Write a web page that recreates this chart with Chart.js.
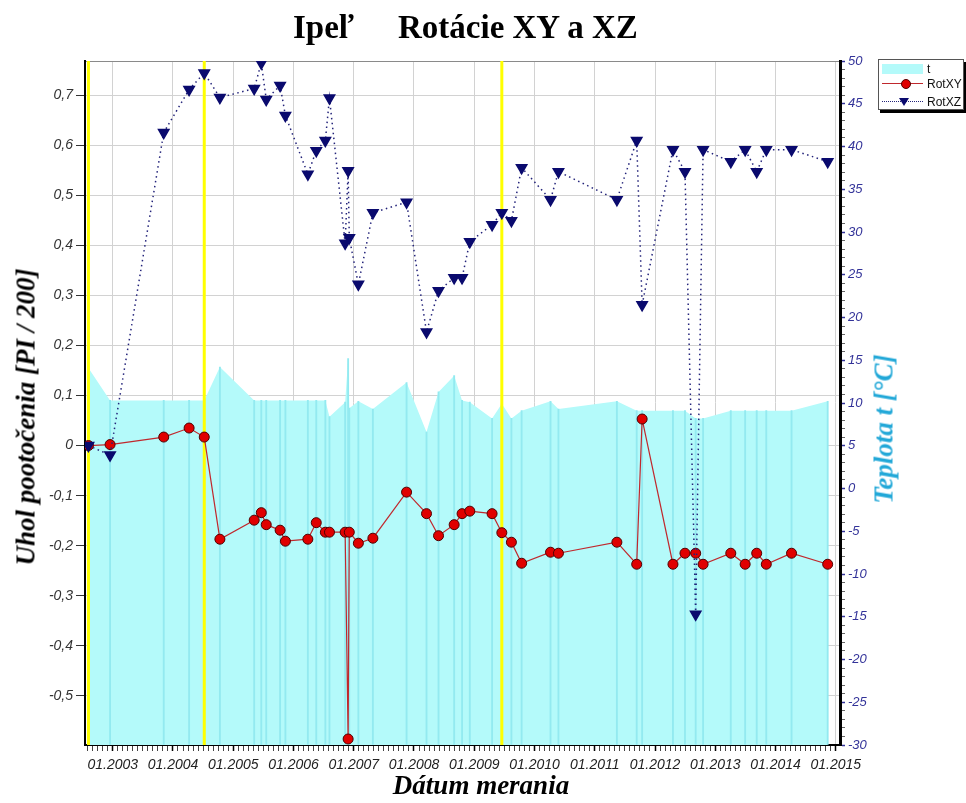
<!DOCTYPE html>
<html>
<head>
<meta charset="utf-8">
<title>Ipeľ Rotácie XY a XZ</title>
<script src="https://cdn.jsdelivr.net/npm/chart.js@4.4.0/dist/chart.umd.min.js"></script>
<style>
body { margin: 0; background: #fff; }
#wrap { position: relative; width: 966px; height: 803px; overflow: hidden; }
#graf { position: absolute; left: 0; top: 0; }
.ttl { position: absolute; font-family: "Liberation Serif", serif; font-weight: bold; color: #000; white-space: nowrap; line-height: 1; }
.axt { font-style: italic; font-size: 27px; transform: translate(-50%, -50%) rotate(-90deg); }
#legend { position: absolute; left: 878px; top: 59px; width: 86px; height: 51px; border: 1px solid #555; background: #fff; box-shadow: 2px 3px 0 #000; box-sizing: border-box; font-family: "Liberation Sans", Arial, sans-serif; font-size: 12px; color: #111; }
#legend div, #legend span { position: absolute; }
</style>
</head>
<body>
<div id="wrap">
  <canvas id="graf" width="966" height="803"></canvas>
  <div class="ttl" style="left:293px; top:11px; font-size:33px;">Ipeľ</div>
  <div class="ttl" style="left:398px; top:11px; font-size:33px;">Rotácie XY a XZ</div>
  <div class="ttl axt" style="left:26px; top:417px;">Uhol pootočenia [PI / 200]</div>
  <div class="ttl axt" style="left:884px; top:429px; color:#22a8d8;">Teplota t [°C]</div>
  <div class="ttl" style="left:481px; top:772px; font-size:27px; font-style:italic; transform:translateX(-50%);">Dátum merania</div>
  <div id="legend">
    <div style="left:3px; top:4px; width:41px; height:10px; background:#b4fafa;"></div>
    <span style="left:48px; top:2px;">t</span>
    <div style="left:3px; top:23px; width:41px; height:0; border-top:1.5px solid #c0282d;"></div>
    <div style="left:22px; top:19px; width:8px; height:8px; border-radius:50%; background:#e00000; border:1px solid #500;"></div>
    <span style="left:48px; top:17px;">RotXY</span>
    <div style="left:3px; top:41px; width:41px; height:0; border-top:1.5px dotted #23237a;"></div>
    <div style="left:20px; top:38px; width:0; height:0; border-left:5px solid transparent; border-right:5px solid transparent; border-top:8px solid #0a0a6e;"></div>
    <span style="left:48px; top:35px;">RotXZ</span>
  </div>
</div>
<script>
// datumy merani
const dates = [
  '2002-08-07', '2002-12-16', '2003-11-06', '2004-04-08', '2004-07-09', '2004-10-12',
  '2005-05-08', '2005-06-20', '2005-07-20', '2005-10-12', '2005-11-13', '2006-03-29',
  '2006-05-19', '2006-07-13', '2006-08-07', '2006-11-10', '2006-11-28', '2006-12-05',
  '2007-01-29', '2007-04-27', '2007-11-17', '2008-03-17', '2008-05-29', '2008-09-01',
  '2008-10-19', '2008-12-05', '2009-04-19', '2009-06-17', '2009-08-14', '2009-10-15',
  '2010-04-08', '2010-05-26', '2011-05-15', '2011-09-12', '2011-10-15', '2012-04-19',
  '2012-07-01', '2012-09-04', '2012-10-19', '2013-04-05', '2013-07-01', '2013-09-09',
  '2013-11-06', '2014-04-08', '2014-11-13'
];
const rotXY = [
  0, 0.002, 0.017, 0.035, 0.017, -0.187,
  -0.149, -0.134, -0.158, -0.169, -0.191, -0.187,
  -0.154, -0.173, -0.173, -0.173, -0.586, -0.173,
  -0.195, -0.185, -0.093, -0.136, -0.180, -0.158,
  -0.136, -0.131, -0.136, -0.174, -0.193, -0.235,
  -0.213, -0.215, -0.193, -0.237, 0.053, -0.237,
  -0.215, -0.215, -0.237, -0.215, -0.237, -0.215,
  -0.237, -0.215, -0.237
];
const rotXZ = [
  0, -0.019, 0.625, 0.711, 0.744, 0.695,
  0.713, 0.764, 0.691, 0.719, 0.659, 0.542,
  0.589, 0.609, 0.694, 0.404, 0.549, 0.415,
  0.322, 0.465, 0.486, 0.227, 0.309, 0.335,
  0.335, 0.407, 0.441, 0.465, 0.449, 0.555,
  0.491, 0.547, 0.491, 0.609, 0.281, 0.591,
  0.547, -0.337, 0.591, 0.567, 0.591, 0.547,
  0.591, 0.591, 0.567
];
const teplota = [
  14.1, 10.3, 10.3, 10.3, 10.3, 14.2,
  10.3, 10.3, 10.3, 10.3, 10.3, 10.3,
  10.3, 10.3, 8.4, 10.1, 15.2, 9.4,
  10.2, 9.3, 12.4, 6.6, 11.3, 13.2,
  10.3, 10.1, 8.2, 9.9, 8.2, 9.1,
  10.2, 9.3, 10.2, 9.1, 9.1, 9.1,
  9.1, 8.2, 8.2, 9.1, 9.1, 9.1,
  9.1, 9.1, 10.2
];
// zlte ciary
const yellowDates = ['2002-08-07', '2004-07-09', '2009-06-17'];

const xMin = 2002.54, xMax = 2015.07;
const yMin = -0.598, yMax = 0.768;
const tMin = -30, tMax = 50;

function toYear(s) {
    const p = s.split('-').map(Number);
    const start = Date.UTC(p[0], 0, 1);
    const next = Date.UTC(p[0] + 1, 0, 1);
    return p[0] + (Date.UTC(p[0], p[1] - 1, p[2]) - start) / (next - start);
}
const xs = dates.map(toYear);
const pts = arr => arr.map((v, i) => ({x: xs[i], y: v}));
const isYear = v => Math.abs(v - Math.round(v)) < 1e-6;

const tickFont = {family: 'Liberation Sans', size: 14, style: 'italic'};

const yellowSets = yellowDates.map((d, i) => ({
    type: 'line',
    label: 'yellow' + i,
    data: [{x: toYear(d), y: yMin}, {x: toYear(d), y: yMax}],
    yAxisID: 'y',
    borderColor: '#ffff00',
    borderWidth: 3,
    pointRadius: 0,
    order: 2
}));

new Chart(document.getElementById('graf'), {
    type: 'line',
    data: {
        datasets: [
            {
                label: 'RotXZ',
                data: pts(rotXZ),
                yAxisID: 'y',
                borderColor: '#23237a',
                borderWidth: 1.5,
                borderDash: [1.5, 3.5],
                pointStyle: 'triangle',
                rotation: 180,
                pointRadius: 6,
                pointBackgroundColor: '#0a0a6e',
                pointBorderColor: '#0a0a6e',
                order: 0
            },
            {
                label: 'RotXY',
                data: pts(rotXY),
                yAxisID: 'y',
                borderColor: '#c0282d',
                borderWidth: 1.2,
                pointRadius: 5,
                pointBackgroundColor: '#e00000',
                pointBorderColor: '#500000',
                pointBorderWidth: 1,
                order: 1
            },
            ...yellowSets,
            {
                type: 'bar',
                label: 't-ciary',
                data: pts(teplota),
                yAxisID: 't',
                base: tMin,
                barThickness: 1.2,
                grouped: false,
                backgroundColor: '#93eaf0',
                order: 3
            },
            {
                label: 't',
                data: pts(teplota),
                yAxisID: 't',
                fill: 'start',
                backgroundColor: '#b4fafa',
                borderWidth: 0,
                pointRadius: 0,
                order: 4
            }
        ]
    },
    options: {
        responsive: false,
        animation: false,
        layout: { padding: {top: 61, left: 0, right: 86, bottom: 0} },
        plugins: {
            legend: { display: false },
            title: { display: false },
            tooltip: { enabled: false }
        },
        scales: {
            x: {
                type: 'linear',
                min: xMin,
                max: xMax,
                offset: false,
                afterFit: s => { s.height = 58; },
                border: { color: '#000', width: 2 },
                grid: {
                    offset: false,
                    color: c => isYear(c.tick.value) ? '#d2d2d2' : 'rgba(0,0,0,0)',
                    tickColor: c => isYear(c.tick.value) ? '#000' : '#444',
                    tickWidth: c => isYear(c.tick.value) ? 1.5 : 1,
                    tickLength: 6
                },
                ticks: {
                    stepSize: 1 / 12,
                    includeBounds: false,
                    autoSkip: false,
                    maxRotation: 0,
                    minRotation: 0,
                    padding: 6,
                    color: '#222',
                    font: tickFont,
                    callback: v => isYear(v) ? '01.' + Math.round(v) : ''
                }
            },
            y: {
                position: 'left',
                min: yMin,
                max: yMax,
                afterFit: s => { s.width = 85; },
                border: { color: '#000', width: 2 },
                grid: { color: '#d2d2d2', tickColor: '#333', tickLength: 9 },
                ticks: {
                    stepSize: 0.1,
                    includeBounds: false,
                    padding: 3,
                    color: '#333',
                    font: tickFont,
                    callback: v => {
                        const r = Math.round(v * 10) / 10;
                        return r === 0 ? '0' : String(r).replace('.', ',');
                    }
                }
            },
            t: {
                position: 'right',
                min: tMin,
                max: tMax,
                afterFit: s => { s.width = 40; },
                border: { color: '#000', width: 3 },
                grid: {
                    color: c => c.tick.value === tMax ? '#8a8a8a' : 'rgba(0,0,0,0)',
                    tickColor: c => c.tick.value % 5 === 0 ? '#333399' : '#666',
                    tickWidth: c => c.tick.value % 5 === 0 ? 1.5 : 1,
                    tickLength: 5
                },
                ticks: {
                    stepSize: 1,
                    autoSkip: false,
                    padding: 3,
                    color: '#333399',
                    font: {family: 'Liberation Sans', size: 13, style: 'italic'},
                    callback: v => v % 5 === 0 ? String(v) : ''
                }
            }
        }
    }
});
</script>
</body>
</html>
